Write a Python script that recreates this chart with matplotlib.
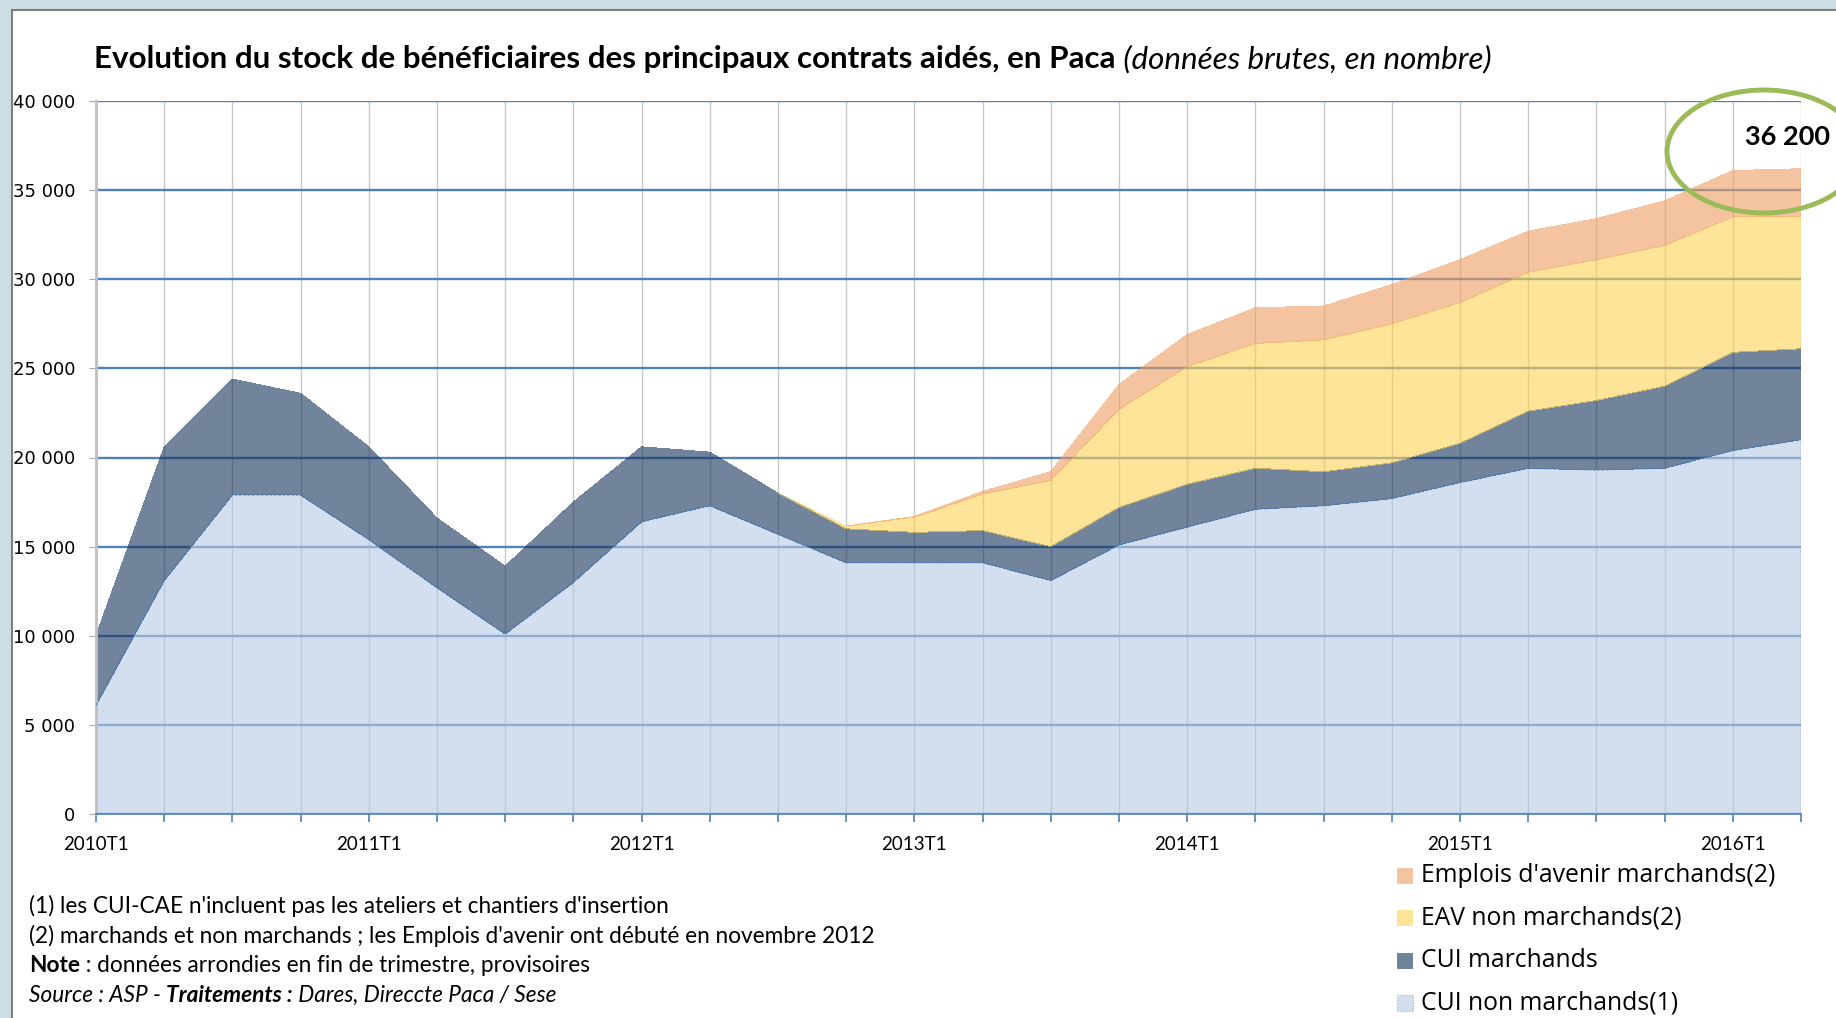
import matplotlib.pyplot as plt
from matplotlib.patches import Ellipse, Rectangle
import numpy as np

# quarters 2010T1 .. 2016T2
quarters = ["2010T1", "2010T2", "2010T3", "2010T4",
            "2011T1", "2011T2", "2011T3", "2011T4",
            "2012T1", "2012T2", "2012T3", "2012T4",
            "2013T1", "2013T2", "2013T3", "2013T4",
            "2014T1", "2014T2", "2014T3", "2014T4",
            "2015T1", "2015T2", "2015T3", "2015T4",
            "2016T1", "2016T2"]

cui_non_marchands = [6100, 13100, 17900, 17900, 15400, 12700, 10100, 13000, 16400, 17300,
                     15700, 14100, 14100, 14100, 13100, 15100, 16100, 17100, 17300, 17700,
                     18600, 19400, 19300, 19400, 20400, 21000]
cui_marchands = [3900, 7500, 6500, 5700, 5200, 3900, 3800, 4500, 4200, 3000,
                 2300, 1900, 1700, 1800, 1900, 2100, 2400, 2300, 1900, 2000,
                 2200, 3200, 3900, 4600, 5500, 5100]
eav_non_marchands = [0, 0, 0, 0, 0, 0, 0, 0, 0, 0,
                     0, 150, 860, 2050, 3720, 5500, 6600, 7000, 7400, 7800,
                     7900, 7800, 7900, 7900, 7600, 7400]
ea_marchands = [0, 0, 0, 0, 0, 0, 0, 0, 0, 0,
                0, 0, 30, 150, 490, 1400, 1800, 2000, 1900, 2200,
                2400, 2300, 2300, 2500, 2600, 2700]

series_labels = ["CUI non marchands(1)", "CUI marchands",
                 "EAV non marchands(2)", "Emplois d'avenir marchands(2)"]
colors = ["#B7CAE3", "#12325A", "#FCD253", "#EE9D61"]

notes = [
    [("(1) les CUI-CAE n'incluent pas les ateliers et chantiers d'insertion", {})],
    [("(2) marchands et non marchands ; les Emplois d'avenir ont débuté en novembre 2012", {})],
    [("Note", {"weight": "bold"}), (" : données arrondies en fin de trimestre, provisoires", {})],
    [("Source : ASP - ", {"style": "italic"}), ("Traitements :", {"style": "italic", "weight": "bold"}),
     (" Dares, Direccte Paca / Sese", {"style": "italic"})],
]

NARROW = ["Lato", "DejaVu Sans"]
W, H = 1836, 1018

fig = plt.figure(figsize=(W / 100, H / 100), dpi=100, facecolor="#CDDDE4")
fig.patches.append(Rectangle((12 / W, -0.01), 1.0, (H - 10) / H + 0.01, transform=fig.transFigure,
                             facecolor="white", edgecolor="#7F7F7F", lw=1.5, zorder=-10))

ax = fig.add_axes([96 / W, 1 - 814 / H, (1801 - 96) / W, (814 - 101) / H])
ax.set_facecolor("none")

x = np.arange(len(quarters))
polys = ax.stackplot(x, cui_non_marchands, cui_marchands, eav_non_marchands, ea_marchands,
                     colors=colors, alpha=0.6, linewidth=0, antialiased=False)
# dotted edge of the bottom series
ax.plot(x, cui_non_marchands, color="#4F81BD", lw=0.9, ls=(0, (2, 1.5)), zorder=3)
ax.plot([x[-1], x[-1]], [0, cui_non_marchands[-1]], color="#4F81BD", lw=0.9, ls=(0, (2, 1.5)), zorder=3)

ax.set_xlim(0, x[-1])
ax.set_ylim(0, 40000)
ax.set_yticks(range(0, 40001, 5000))
ax.set_yticklabels([f"{v:,}".replace(",", " ") for v in range(0, 40001, 5000)])
ax.set_xticks(x)
ax.set_xticklabels([q if q.endswith("T1") else "" for q in quarters])

ax.set_axisbelow(True)
ax.yaxis.grid(True, color="#4F81BD", lw=1.7)
ax.xaxis.grid(True, color="#C8C8C8", lw=1.0)
for s in ["top", "right"]:
    ax.spines[s].set_visible(False)
ax.spines["left"].set_color("#BFBFBF")
ax.spines["left"].set_linewidth(2)
ax.spines["bottom"].set_color("#4F81BD")
ax.spines["bottom"].set_linewidth(1.2)

ax.tick_params(axis="y", length=5, color="#A6A6A6", pad=10, labelsize=13, labelcolor="black")
ax.tick_params(axis="x", length=6, color="#4F81BD", width=1.2, pad=10, labelsize=13.5)
for lab in ax.get_xticklabels():
    lab.set_family(NARROW)

# total value + highlight ellipse
total = cui_non_marchands[-1] + cui_marchands[-1] + eav_non_marchands[-1] + ea_marchands[-1]
ax.text(24.8, 38000, f"{total:,}".replace(",", " "), ha="center", va="center",
        fontsize=19.5, weight="bold", family=NARROW, clip_on=False)
fig.patches.append(Ellipse((17.64, (H - 151.5) / 100), 1.94, 1.23, transform=fig.dpi_scale_trans,
                           fill=False, edgecolor="#9BBB59", lw=3.5, zorder=5))

renderer = fig.canvas.get_renderer()


def draw_runs(x0, ybase, runs, size):
    xx = x0
    for txt, kw in runs:
        t = fig.text(xx / W, 1 - ybase / H, txt, fontsize=size, family=NARROW, va="baseline", **kw)
        xx += t.get_window_extent(renderer=renderer).width


# title
draw_runs(94, 68, [("Evolution du stock de bénéficiaires des principaux contrats aidés, en Paca", {"weight": "bold"}),
                   (" (données brutes, en nombre)", {"style": "italic"})], 22.6)

# notes
for i, runs in enumerate(notes):
    draw_runs(29, 913 + i * 29.7, runs, 16.3)

# legend, top entry first
for i, k in enumerate([3, 2, 1, 0]):
    yc = 876 + i * 42.3
    ec = "#4F81BD" if k == 0 else "none"
    fig.patches.append(Rectangle((1397 / W, 1 - (yc + 8) / H), 16 / W, 16 / H, transform=fig.transFigure,
                                 facecolor=colors[k], alpha=0.6, edgecolor=ec, lw=0.8, ls=":"))
    fig.text(1421 / W, 1 - yc / H, series_labels[k], fontsize=17.8, family="Open Sans", va="center")

fig.savefig("out.png", dpi=100, facecolor=fig.get_facecolor())
